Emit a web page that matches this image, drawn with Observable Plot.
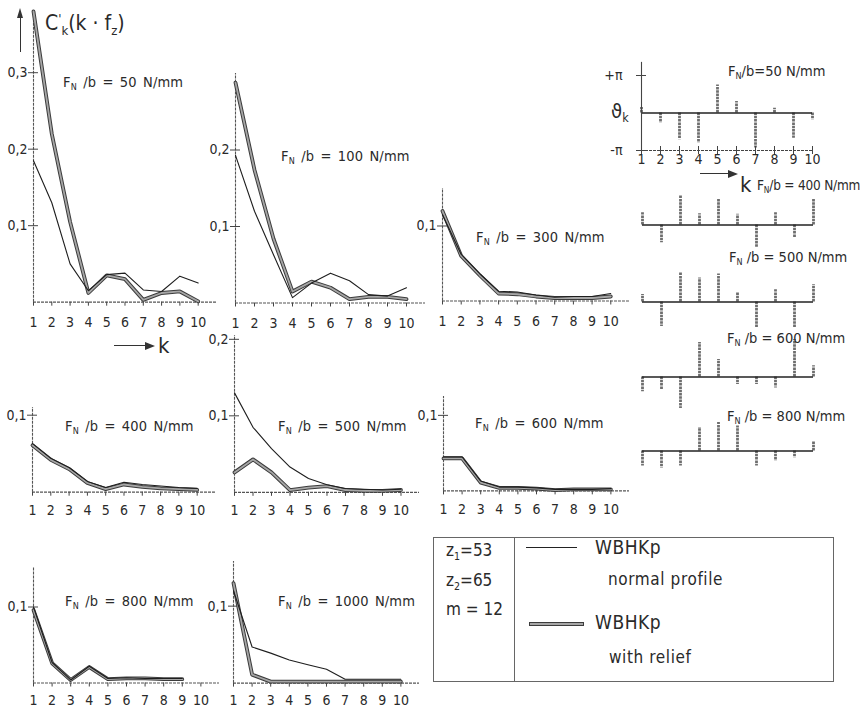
<!DOCTYPE html>
<html>
<head>
<meta charset="utf-8">
<script src="https://cdn.jsdelivr.net/npm/d3@7"></script>
<script src="https://cdn.jsdelivr.net/npm/@observablehq/plot@0.6"></script>
<style>
  html, body { margin: 0; padding: 0; background: #fff; }
  #chart { position: relative; width: 861px; height: 712px; background: #fff; overflow: hidden;
    font-family: "DejaVu Sans Condensed", "DejaVu Sans", sans-serif; color: #2a2a2a; }
  #chart sub { font-size: 0.62em; vertical-align: -0.35em; line-height: 0; }
  #chart sup { font-size: 0.62em; vertical-align: 0.55em; line-height: 0; }
  .lbl { position: absolute; white-space: pre; line-height: 1; }
</style>
</head>
<body>
<div id="chart"></div>
<script>
// ---------- data ----------
const k = [1, 2, 3, 4, 5, 6, 7, 8, 9, 10];

// spectral amplitude C'k(k·fz): thin = normal profile, thick = with relief
const normal50   = [0.185, 0.13, 0.05, 0.015, 0.036, 0.038, 0.016, 0.014, 0.034, 0.025];
const relief50   = [0.38, 0.22, 0.105, 0.012, 0.035, 0.03, 0.003, 0.012, 0.014, 0.001];
const normal100  = [0.193, 0.12, 0.063, 0.007, 0.026, 0.039, 0.029, 0.011, 0.009, 0.02];
const relief100  = [0.288, 0.174, 0.084, 0.015, 0.028, 0.02, 0.005, 0.008, 0.008, 0.005];
const normal300  = [0.115, 0.062, 0.036, 0.013, 0.012, 0.008, 0.005, 0.006, 0.006, 0.01];
const relief300  = [0.12, 0.06, 0.034, 0.01, 0.009, 0.006, 0.004, 0.004, 0.004, 0.006];
const normal400  = [0.063, 0.044, 0.032, 0.014, 0.006, 0.013, 0.01, 0.008, 0.006, 0.005];
const relief400  = [0.061, 0.042, 0.03, 0.012, 0.004, 0.01, 0.007, 0.005, 0.004, 0.003];
const normal500  = [0.13, 0.085, 0.057, 0.033, 0.018, 0.01, 0.005, 0.004, 0.003, 0.004];
const relief500  = [0.026, 0.043, 0.026, 0.003, 0.006, 0.008, 0.003, 0.002, 0.002, 0.003];
const normal600  = [0.045, 0.045, 0.013, 0.005, 0.005, 0.004, 0.002, 0.002, 0.002, 0.003];
const relief600  = [0.043, 0.043, 0.011, 0.004, 0.004, 0.003, 0.001, 0.002, 0.002, 0.002];
const normal800  = [0.1, 0.027, 0.004, 0.022, 0.006, 0.007, 0.006, 0.006, 0.006, null];
const relief800  = [0.096, 0.026, 0.004, 0.021, 0.005, 0.006, 0.006, 0.005, 0.005, null];
const normal1000 = [0.12, 0.047, 0.039, 0.03, 0.024, 0.018, 0.005, 0.005, 0.005, 0.005];
const relief1000 = [0.13, 0.011, 0.002, 0.002, 0.002, 0.002, 0.002, 0.002, 0.002, 0.002];

// phase angle ϑk in units of π
const phase50  = [0.15, -0.27, -0.71, -0.8, 0.75, 0.31, -0.93, 0.13, -0.67, -0.18];
const phase400 = [0.33, -0.47, 0.78, 0.3, 0.71, 0.29, -0.59, 0.33, -0.34, 0.71];
const phase500 = [0.2, -0.65, 0.78, 0.64, 0.75, 0.24, -0.7, 0.33, -0.7, 0.46];
const phase600 = [-0.39, -0.33, -0.84, 0.92, 0.47, -0.2, -0.2, -0.29, 1.0, 0.3];
const phase800 = [-0.4, -0.45, -0.4, 0.63, 0.76, 0.67, -0.4, -0.27, -0.18, 0.27];

const loadLabels = ["50", "100", "300", "400", "500", "600", "800", "1000"];

// ---------- layout ----------
const root = document.getElementById("chart");
const FONT = '"DejaVu Sans Condensed", "DejaVu Sans", sans-serif';
const INK = "#2a2a2a";
const fmtComma = d => String(d).replace(".", ",");

function place(el, left, top) {
  el.style.position = "absolute";
  el.style.left = left + "px";
  el.style.top = top + "px";
  root.appendChild(el);
  return el;
}
function label(html, x, yc, size, extra) {
  const d = document.createElement("div");
  d.className = "lbl";
  d.innerHTML = html;
  d.style.fontSize = size + "px";
  if (extra) Object.assign(d.style, extra);
  place(d, x, yc - size * 0.55);
  return d;
}
function box(left, top, styles) {
  const d = document.createElement("div");
  Object.assign(d.style, styles);
  return place(d, left, top);
}
// horizontal arrow drawn with a shaft and a triangular head
function hArrow(x0, x1, y) {
  box(x0, y, {width: (x1 - x0 - 8) + "px", height: "0px", borderTop: "1.4px solid #333"});
  box(x1 - 9, y - 3.3, {width: "0", height: "0", borderTop: "4px solid transparent", borderBottom: "4px solid transparent", borderLeft: "10px solid #333"});
}

const curvePanels = [
  {normal: normal50,   relief: relief50,   x1: 33,  dx: 18.3, y0: 302, pu: 765, top: 0.38,  ticks: [0.1, 0.2, 0.3], pad: 11},
  {normal: normal100,  relief: relief100,  x1: 235, dx: 19.0, y0: 302, pu: 765, top: 0.3,   ticks: [0.1, 0.2], pad: 11},
  {normal: normal300,  relief: relief300,  x1: 442, dx: 18.7, y0: 300, pu: 750, top: 0.15,  ticks: [0.1], pad: 11},
  {normal: normal400,  relief: relief400,  x1: 32,  dx: 18.3, y0: 492, pu: 770, top: 0.11,  ticks: [0.1], pad: 9},
  {normal: normal500,  relief: relief500,  x1: 234, dx: 18.5, y0: 492, pu: 765, top: 0.205, ticks: [0.1, 0.2], pad: 9},
  {normal: normal600,  relief: relief600,  x1: 443, dx: 18.6, y0: 490, pu: 755, top: 0.125, ticks: [0.1], pad: 9},
  {normal: normal800,  relief: relief800,  x1: 33,  dx: 18.6, y0: 683, pu: 760, top: 0.152, ticks: [0.1], pad: 8},
  {normal: normal1000, relief: relief1000, x1: 233, dx: 18.6, y0: 683, pu: 770, top: 0.158, ticks: [0.1], pad: 8}
];

const ML = 42, MR = 34, MT = 12, MB = 34;

curvePanels.forEach(p => {
  const data = k.map((kk, i) => ({k: kk, n: p.normal[i], r: p.relief[i]})).filter(d => d.n != null);
  const fw = 9 * p.dx, fh = p.top * p.pu;
  const svg = Plot.plot({
    width: fw + ML + MR, height: fh + MT + MB,
    marginLeft: ML, marginRight: MR, marginTop: MT, marginBottom: MB,
    x: {domain: [1, 10]},
    y: {domain: [0, p.top]},
    style: {fontFamily: FONT, fontSize: "14px", color: INK, background: "transparent", overflow: "visible"},
    marks: [
      Plot.ruleY([0], {x1: 1, x2: 11, stroke: "#555", strokeWidth: 1.2, strokeDasharray: "3,1"}),
      Plot.ruleX([1], {y1: 0, y2: p.top, stroke: "#555", strokeWidth: 1.1, strokeDasharray: "3,1"}),
      Plot.axisX({ticks: k, tickSize: 4, tickPadding: p.pad, tickFormat: d => String(d), label: null, stroke: "#444"}),
      Plot.axisY({ticks: p.ticks, tickSize: 5, tickPadding: 1, tickFormat: fmtComma, label: null, stroke: "#444"}),
      Plot.axisY({ticks: p.ticks, tickSize: -5, tickFormat: () => "", label: null, stroke: "#444"}),
      Plot.line(data, {x: "k", y: "r", stroke: "#3c3c3c", strokeWidth: 3.8, strokeLinejoin: "round"}),
      Plot.line(data, {x: "k", y: "r", stroke: "#a6a6a6", strokeWidth: 1.8, strokeLinejoin: "round"}),
      Plot.line(data, {x: "k", y: "n", stroke: "#1e1e1e", strokeWidth: 1.1, strokeLinejoin: "round"})
    ]
  });
  place(svg, p.x1 - ML, p.y0 - fh - MT);
});

// phase panels
const PI_PX = 37.5;
const phaseRows = [
  {v: phase50,  x1: 641, dx: 19, y0: 112, axes: true},
  {v: phase400, x1: 642, dx: 19, y0: 224},
  {v: phase500, x1: 642, dx: 19, y0: 301},
  {v: phase600, x1: 642, dx: 19, y0: 376},
  {v: phase800, x1: 642, dx: 19, y0: 450}
];
phaseRows.forEach(p => {
  const data = k.map((kk, i) => ({k: kk, v: p.v[i]}));
  const fw = 9 * p.dx, fh = 2 * PI_PX;
  const marks = [
    Plot.ruleX(data, {x: "k", y1: 0, y2: "v", stroke: "#6e6e6e", strokeWidth: 2.8, strokeDasharray: "2.5,0.8"}),
    Plot.ruleY([0], {x1: 1, x2: 10, stroke: "#222", strokeWidth: 1.4})
  ];
  if (p.axes) {
    marks.push(
      Plot.ruleY([-1], {x1: 1, x2: 10, stroke: "#444", strokeWidth: 1.1, strokeDasharray: "3,1"}),
      Plot.ruleX([1], {y1: -1, y2: 1.35, stroke: "#444", strokeWidth: 1.1}),
      Plot.axisX({ticks: k, tickSize: 4, tickPadding: 0, tickFormat: d => String(d), label: null, stroke: "#444"}),
      Plot.axisX({ticks: k, tickSize: -4, tickFormat: () => "", label: null, stroke: "#444"}),
      Plot.axisY({ticks: [-1, 1], tickSize: 5, tickPadding: 14, tickFormat: d => d > 0 ? "+π" : "-π", label: null, stroke: "#444"}),
      Plot.axisY({ticks: [-1, 1], tickSize: -5, tickFormat: () => "", label: null, stroke: "#444"})
    );
  }
  const svg = Plot.plot({
    width: fw + ML + MR, height: fh + MT + 26,
    marginLeft: ML, marginRight: MR, marginTop: MT, marginBottom: 26,
    x: {domain: [1, 10], axis: p.axes ? undefined : null},
    y: {domain: [-1, 1], axis: p.axes ? undefined : null},
    style: {fontFamily: FONT, fontSize: "14px", color: INK, background: "transparent", overflow: "visible"},
    marks
  });
  place(svg, p.x1 - ML, p.y0 - PI_PX - MT);
});

// ---------- texts ----------
const FN = v => `F<sub>N</sub> /b = ${v} N/mm`;
const curveLabelPos = [[63, 83], [281, 157], [476, 238], [65, 427], [278, 427], [475, 424], [65, 602], [278, 602]];
loadLabels.forEach((v, i) => label(FN(v), curveLabelPos[i][0], curveLabelPos[i][1], 14.5, {letterSpacing: "0.15px", wordSpacing: "2px"}));

label(`F<sub>N</sub>/b=50 N/mm`, 728, 72, 14.5);
label(`F<sub>N</sub>/b = 400 N/mm`, 757, 186, 13.5, {letterSpacing: "-0.2px"});
label(`F<sub>N</sub> /b = 500 N/mm`, 729, 258, 14.5);
label(`F<sub>N</sub> /b = 600 N/mm`, 727, 339, 14.5);
label(`F<sub>N</sub> /b = 800 N/mm`, 727, 417, 14.5);

// y-axis title of the amplitude plots
label(`C<sup>'</sup><sub>k</sub>(k · f<sub>z</sub>)`, 45, 25, 21);
// up arrow (thin shaft with head)
box(20, 16, {width: "0px", height: "36px", borderLeft: "1.3px solid #333"});
box(17, 8, {width: "0", height: "0", borderLeft: "3.5px solid transparent", borderRight: "3.5px solid transparent", borderBottom: "10px solid #333"});
// "→ k" labels
hArrow(114, 154, 345);
label(`k`, 158, 347, 22);
hArrow(700, 737, 173);
label(`k`, 740, 186, 22);
// phase symbol
label(`ϑ<sub>k</sub>`, 611, 112, 20);

// legend box
box(433, 537, {width: "401px", height: "145px", border: "1px solid #666", boxSizing: "border-box"});
box(514, 537, {width: "0px", height: "145px", borderLeft: "1px solid #666"});

label(`z<sub>1</sub>=53`, 446, 551, 17);
label(`z<sub>2</sub>=65`, 446, 581, 17);
label(`m = 12`, 446, 610, 17);

box(526, 547, {width: "51px", height: "0px", borderTop: "1.2px solid #222"});
box(529, 622, {width: "53px", height: "2px", background: "#a6a6a6", border: "1px solid #3c3c3c"});

label(`WBHKp`, 595, 548, 19, {letterSpacing: "0.5px"});
label(`normal profile`, 608, 580, 17, {letterSpacing: "0.6px"});
label(`WBHKp`, 595, 623, 19, {letterSpacing: "0.5px"});
label(`with relief`, 609, 658, 17, {letterSpacing: "0.6px"});
</script>
</body>
</html>
